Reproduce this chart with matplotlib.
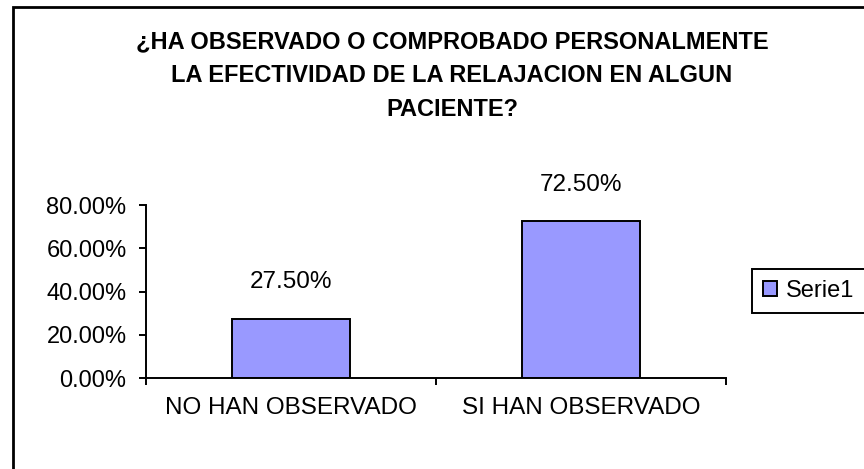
import matplotlib
matplotlib.use("Agg")
import matplotlib.pyplot as plt
from matplotlib.patches import Rectangle
from matplotlib.ticker import FuncFormatter, FixedLocator

# Data
categories = ["NO HAN OBSERVADO", "SI HAN OBSERVADO"]
values = [27.5, 72.5]
series_name = "Serie1"
title_lines = ["¿HA OBSERVADO O COMPROBADO PERSONALMENTE",
               "LA EFECTIVIDAD DE LA RELAJACION EN ALGUN",
               "PACIENTE?"]

plt.rcParams["font.family"] = ["Liberation Sans", "DejaVu Sans"]

W, H = 864, 469
fig = plt.figure(figsize=(W / 100, H / 100), dpi=100)
ax = fig.add_axes([146 / W, 1 - 378 / H, 580 / W, 173 / H])

x = range(len(categories))
bars = ax.bar(x, values, width=0.407, color="#9999FF", edgecolor="black",
              linewidth=1.4, label=series_name)

for b, v in zip(bars, values):
    ax.annotate(f"{v:.2f}%", (b.get_x() + b.get_width() / 2, v),
                xytext=(0, 26), textcoords="offset points",
                ha="center", va="center", fontsize=17.5)

ax.set_xlim(-0.5, len(categories) - 0.5)
ax.set_ylim(0, 80)
ax.set_yticks([0, 20, 40, 60, 80])
ax.yaxis.set_major_formatter(FuncFormatter(lambda v, p: f"{v:.2f}%"))
ax.set_xticks(list(x))
ax.set_xticklabels(categories, fontsize=17.5)
ax.xaxis.set_minor_locator(FixedLocator([-0.5, 0.5, 1.5]))
ax.tick_params(axis="x", which="major", length=0, pad=14)
ax.tick_params(axis="x", which="minor", length=5, width=1.4, direction="out")
ax.tick_params(axis="y", length=5, width=1.4, direction="out", labelsize=17, pad=9)

for s in ["top", "right"]:
    ax.spines[s].set_visible(False)
for s in ["left", "bottom"]:
    ax.spines[s].set_linewidth(1.4)

# title, one line at a time
for i, line in enumerate(title_lines):
    fig.text(452 / W, 1 - (42 + 34 * i) / H, line, ha="center", va="center",
             fontsize=17, fontweight="bold")

leg = fig.legend(loc="center left", bbox_to_anchor=(752 / W, 1 - 291 / H),
                 fontsize=17, frameon=True, fancybox=False, framealpha=1,
                 edgecolor="black", handlelength=0.6, handleheight=0.6,
                 handletextpad=0.4, borderpad=0.45, borderaxespad=0)
leg.get_frame().set_linewidth(1.4)

# outer chart border
fig.patches.append(Rectangle((13 / W, -0.05), 1.0, 1 - 7.5 / H + 0.05,
                             transform=fig.transFigure, fill=False,
                             edgecolor="black", linewidth=2))

fig.savefig("out.png", dpi=100)
